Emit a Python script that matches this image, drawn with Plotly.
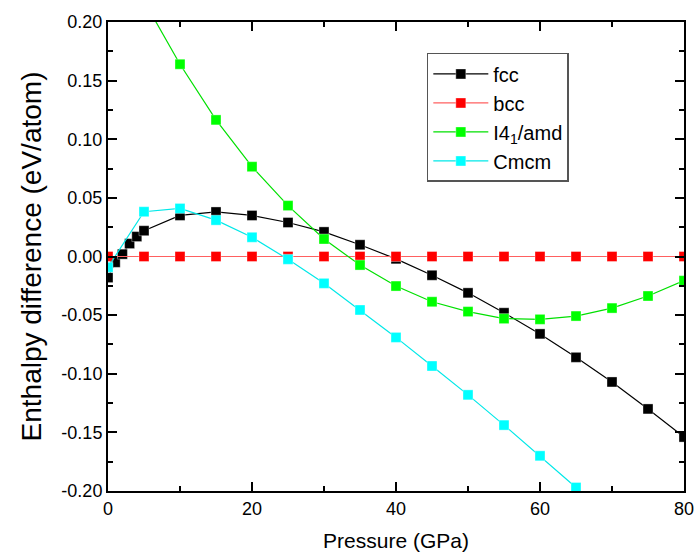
import plotly.graph_objects as go

# ---- data ----
fcc_x = [0, 1, 2, 3, 4, 5, 10, 15, 20, 25, 30, 35, 40, 45, 50, 55, 60, 65, 70, 75, 80]
fcc_y = [-0.018, -0.005, 0.002, 0.011, 0.017, 0.022, 0.035, 0.038, 0.035, 0.029, 0.021,
         0.010, -0.002, -0.016, -0.031, -0.048, -0.066, -0.086, -0.107, -0.130, -0.154]

bcc_x = [0, 5, 10, 15, 20, 25, 30, 35, 40, 45, 50, 55, 60, 65, 70, 75, 80]
bcc_y = [0.0] * len(bcc_x)

i4_x = [5, 10, 15, 20, 25, 30, 35, 40, 45, 50, 55, 60, 65, 70, 75, 80]
i4_y = [0.218, 0.164, 0.1165, 0.0766, 0.0434, 0.0149, -0.0073, -0.0252, -0.0386,
        -0.047, -0.053, -0.0536, -0.0508, -0.044, -0.0337, -0.0206]

cmcm_x = [0, 5, 10, 15, 20, 25, 30, 35, 40, 45, 50, 55, 60, 65]
cmcm_y = [-0.0092, 0.0382, 0.041, 0.031, 0.0164, -0.0024, -0.0229, -0.0456, -0.069,
          -0.0934, -0.118, -0.1438, -0.170, -0.197]

x_ticks = [0, 20, 40, 60, 80]
x_ticktext = ["0", "20", "40", "60", "80"]
y_ticks = [0.20, 0.15, 0.10, 0.05, 0.00, -0.05, -0.10, -0.15, -0.20]
y_ticktext = ["0.20", "0.15", "0.10", "0.05", "0.00", "-0.05", "-0.10", "-0.15", "-0.20"]

FONT = "Liberation Sans, Arial, sans-serif"

series = [
    ("fcc", fcc_x, fcc_y, "#000000", "#000000"),
    ("bcc", bcc_x, bcc_y, "#FF0000", "#FF6060"),
    ("I4<sub>1</sub>/amd", i4_x, i4_y, "#00FF00", "#00E000"),
    ("Cmcm", cmcm_x, cmcm_y, "#00FFFF", "#00E8E8"),
]

fig = go.Figure()
for name, xs, ys, mcol, lcol in series:
    fig.add_trace(go.Scatter(
        x=xs, y=ys, name=name, mode="lines+markers",
        line=dict(color=lcol, width=1.2),
        marker=dict(symbol="square", size=10, color=mcol,
                    line=dict(width=0.6, color="rgba(255,255,255,0.6)")),
    ))

axis_common = dict(
    showline=True, linecolor="black", linewidth=2, mirror="ticks",
    ticks="inside", ticklen=9, tickwidth=2, tickcolor="black",
    showgrid=False, zeroline=False, automargin=False,
    tickfont=dict(family=FONT, size=18, color="black"),
)

fig.update_xaxes(
    range=[0, 80], tickmode="array", tickvals=x_ticks, ticktext=x_ticktext,
    minor=dict(ticks="inside", ticklen=5, tickwidth=2, tickcolor="black", dtick=10, showgrid=False),
    title=dict(text="Pressure (GPa)", font=dict(family=FONT, size=21, color="black"), standoff=16),
    **axis_common,
)
fig.update_yaxes(
    range=[-0.2, 0.2], tickmode="array", tickvals=y_ticks, ticktext=y_ticktext,
    minor=dict(ticks="inside", ticklen=5, tickwidth=2, tickcolor="black", dtick=0.025, showgrid=False),
    title=dict(text="Enthalpy difference (eV/atom)", font=dict(family=FONT, size=28, color="black"), standoff=12),
    **axis_common,
)

fig.update_layout(
    width=696, height=554,
    margin=dict(l=108, r=12, t=22, b=63),
    paper_bgcolor="white", plot_bgcolor="white",
    showlegend=True,
    legend=dict(
        x=0.5535, y=0.934, xanchor="left", yanchor="top",
        bgcolor="white", bordercolor="#555555", borderwidth=1.5,
        font=dict(family=FONT, size=20, color="black"),
        itemwidth=55, tracegroupgap=0,
    ),
)

fig.write_html("out.html")
